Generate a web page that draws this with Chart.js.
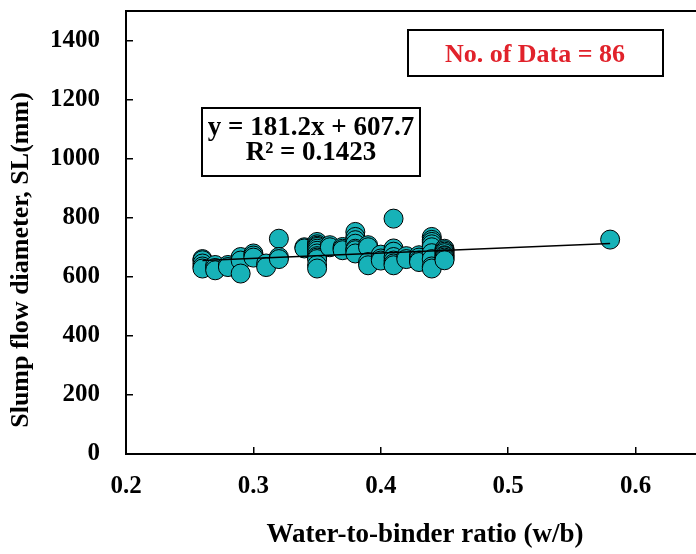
<!DOCTYPE html>
<html>
<head>
<meta charset="utf-8">
<script src="https://cdn.jsdelivr.net/npm/chart.js@4.4.1/dist/chart.umd.min.js"></script>
<style>
  html, body { margin: 0; padding: 0; background: #fff; overflow: hidden; }
  #wrap { width: 696px; height: 554px; overflow: hidden; }
</style>
</head>
<body>
<div id="wrap"><canvas id="chart" width="790" height="554"></canvas></div>
<script>
// Slump flow vs water-to-binder ratio (86 mixes)
const wbRatio = [
  0.26, 0.26, 0.26, 0.26, 0.26,
  0.27, 0.27, 0.27,
  0.28, 0.28,
  0.29, 0.29, 0.29,
  0.30, 0.30, 0.30,
  0.31, 0.31,
  0.32, 0.32, 0.32,
  0.34, 0.34,
  0.35, 0.35, 0.35, 0.35, 0.35, 0.35, 0.35, 0.35, 0.35, 0.35, 0.35, 0.35,
  0.36, 0.36,
  0.37, 0.37, 0.37,
  0.38, 0.38, 0.38, 0.38, 0.38, 0.38, 0.38,
  0.39, 0.39, 0.39, 0.39,
  0.40, 0.40, 0.40,
  0.41, 0.41, 0.41, 0.41, 0.41, 0.41, 0.41,
  0.42, 0.42,
  0.43, 0.43, 0.43, 0.43,
  0.44, 0.44, 0.44, 0.44, 0.44, 0.44, 0.44, 0.44, 0.44,
  0.45, 0.45, 0.45, 0.45, 0.45, 0.45, 0.45, 0.45, 0.45,
  0.58
];
const slumpFlow = [
  660, 656, 645, 635, 628,
  640, 630, 622,
  640, 633,
  667, 655, 611,
  679, 672, 665,
  645, 633,
  729, 667, 660,
  700, 696,
  718, 710, 705, 701, 695, 688, 679, 670, 665, 660, 640, 628,
  707, 700,
  701, 695, 690,
  752, 735, 724, 712, 695, 690, 679,
  707, 700, 650, 639,
  675, 662, 655,
  797, 696, 685, 667, 655, 645, 639,
  670, 660,
  673, 665, 655, 650,
  735, 725, 718, 710, 700, 680, 660, 635, 628,
  695, 690, 685, 680, 673, 670, 665, 660, 656,
  726
];

// Linear fit shown on the chart
const trendSlope = 181.2;
const trendIntercept = 607.7;
const trendFrom = 0.26;
const trendTo = 0.58;
const equationLines = ['y = 181.2x + 607.7', 'R\u00b2 = 0.1423'];
const countLabel = 'No. of Data = 86';

const xTitle = 'Water-to-binder ratio (w/b)';
const yTitle = 'Slump flow diameter, SL(mm)';

const FONT = "'Liberation Serif', 'Times New Roman', serif";

const points = wbRatio.map((x, i) => ({ x: x, y: slumpFlow[i] }));
const trend = [trendFrom, trendTo].map(x => ({ x: x, y: trendSlope * x + trendIntercept }));

// frame, text boxes and axis titles
const overlay = {
  id: 'overlay',
  afterDraw(chart) {
    const { ctx, chartArea: a } = chart;
    ctx.save();
    ctx.strokeStyle = '#000';
    ctx.lineWidth = 2;
    ctx.strokeRect(a.left, a.top, a.right - a.left, a.bottom - a.top);

    ctx.textAlign = 'center';
    ctx.textBaseline = 'alphabetic';

    // "No. of Data" box
    ctx.strokeRect(408, 30, 255, 46);
    ctx.fillStyle = '#e1222b';
    ctx.font = 'bold 26px ' + FONT;
    ctx.fillText(countLabel, 535, 62);

    // equation box
    ctx.strokeRect(202, 108, 218, 68);
    ctx.fillStyle = '#000';
    ctx.font = 'bold 27px ' + FONT;
    ctx.fillText(equationLines[0], 311, 135);
    ctx.fillText(equationLines[1], 311, 160);

    // axis titles
    ctx.textBaseline = 'middle';
    ctx.font = 'bold 27px ' + FONT;
    ctx.fillText(xTitle, 425, 535);
    ctx.font = 'bold 26px ' + FONT;
    ctx.translate(21, 260);
    ctx.rotate(-Math.PI / 2);
    ctx.fillText(yTitle, 0, 0);
    ctx.restore();
  }
};

const noPad = s => {
  s.paddingTop = 0;
  s.paddingBottom = 0;
  s.paddingLeft = 0;
  s.paddingRight = 0;
};

new Chart(document.getElementById('chart'), {
  type: 'scatter',
  data: {
    datasets: [
      {
        type: 'line',
        data: trend,
        borderColor: '#000',
        borderWidth: 1.5,
        pointRadius: 0,
        fill: false,
        order: 0
      },
      {
        data: points,
        backgroundColor: '#17b2b8',
        borderColor: '#000',
        borderWidth: 1,
        pointRadius: 9.5,
        order: 1
      }
    ]
  },
  options: {
    responsive: false,
    animation: false,
    layout: { padding: { top: 11, right: 27, left: 0, bottom: 0 } },
    plugins: {
      legend: { display: false },
      tooltip: { enabled: false }
    },
    scales: {
      x: {
        type: 'linear',
        min: 0.2,
        max: 0.7,
        afterFit: s => { s.height = 100; noPad(s); },
        border: { display: false },
        grid: { drawOnChartArea: false, drawTicks: true, tickLength: -7, color: '#000', lineWidth: 1.5 },
        ticks: {
          stepSize: 0.1,
          padding: 25,
          color: '#000',
          font: { family: FONT, size: 25, weight: 'bold' },
          callback: v => v.toFixed(1)
        }
      },
      y: {
        min: 0,
        max: 1500,
        afterFit: s => { s.width = 126; noPad(s); },
        border: { display: false },
        grid: { drawOnChartArea: false, drawTicks: true, tickLength: -7, color: '#000', lineWidth: 1.5 },
        ticks: {
          stepSize: 200,
          includeBounds: false,
          padding: 33,
          color: '#000',
          font: { family: FONT, size: 25, weight: 'bold' },
          callback: v => String(v)
        }
      }
    }
  },
  plugins: [overlay]
});
</script>
</body>
</html>
